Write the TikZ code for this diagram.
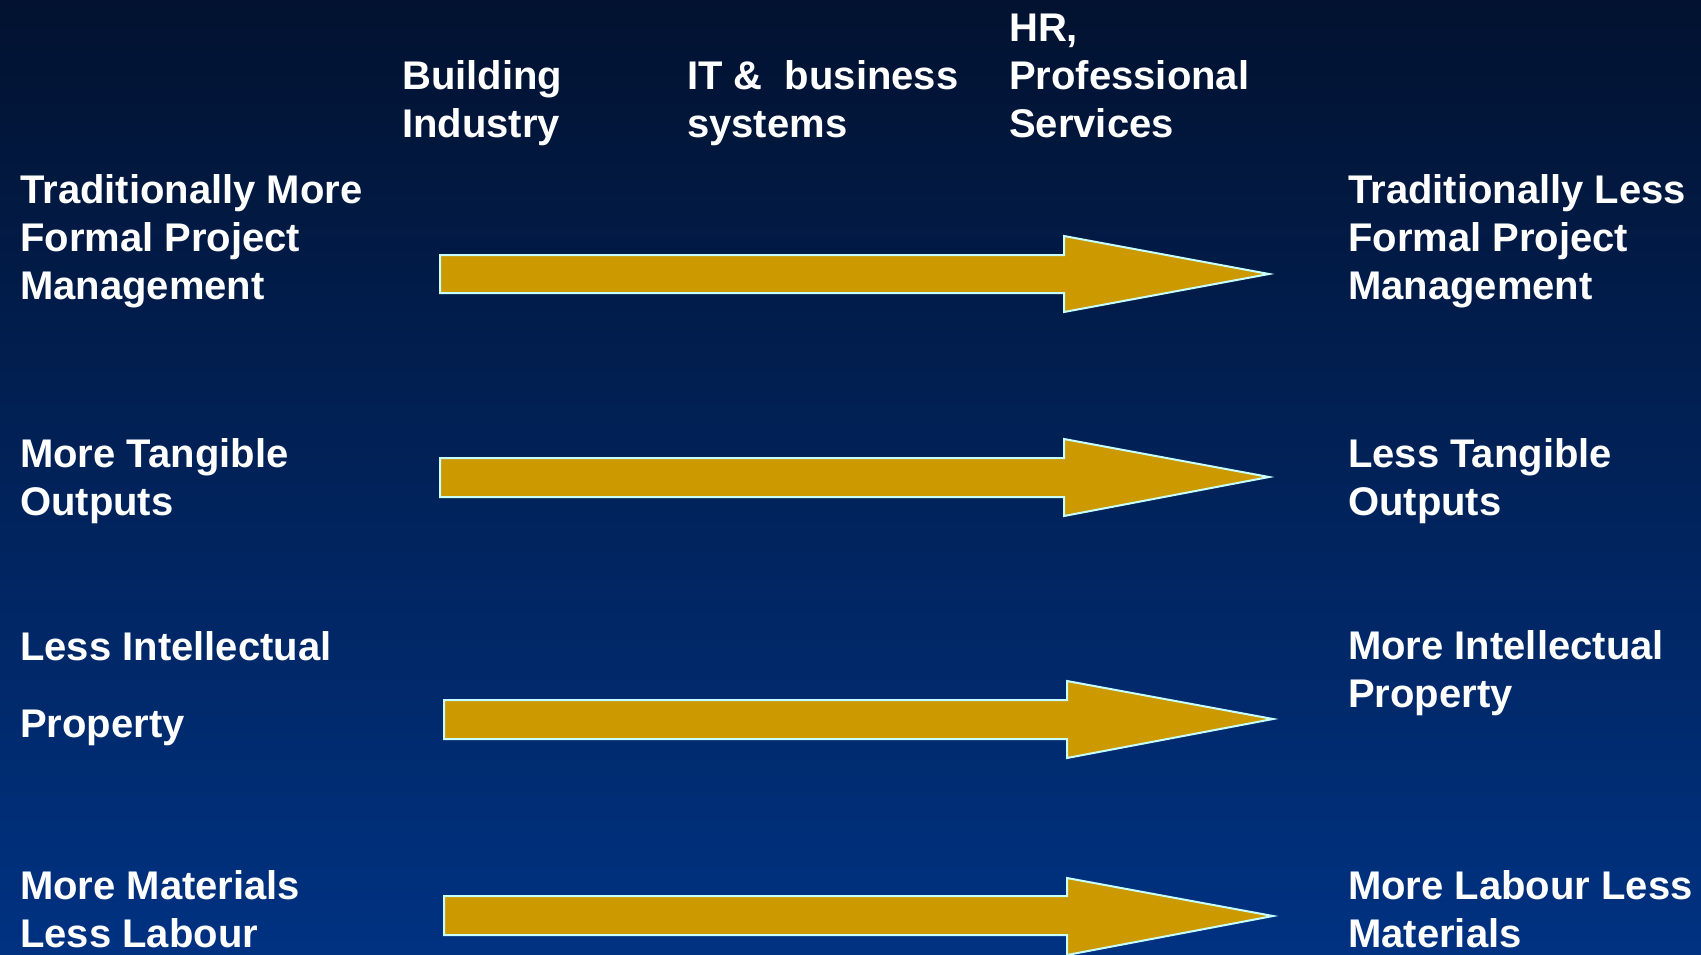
\documentclass[tikz,border=0pt]{standalone}
\usepackage{fontspec}
\setmainfont{Liberation Sans}
\begin{document}
\begin{tikzpicture}[x=1pt,y=-1pt,
  label/.style={inner sep=0pt,anchor=base west,align=left,text=white,
    font=\bfseries\fontsize{40}{48}\selectfont},
  blockarrow/.style={fill=arrowgold,draw=edgecyan,line width=2pt,line join=miter}]
\definecolor{arrowgold}{RGB}{204,153,0}
\definecolor{edgecyan}{RGB}{200,255,255}
\definecolor{navytop}{RGB}{2,18,48}
\definecolor{navybottom}{RGB}{0,50,130}
% background
\shade[top color=navytop,bottom color=navybottom] (0,0) rectangle (1701,954);
\useasboundingbox (0,0) rectangle (1701,954);

% column headings (positioned by the baseline of their last line)
\node[label] (build) at (402,137) {Building\\Industry};
\node[label] (it) at (687,137) {IT \&\ \ business\\systems};
\node[label] (hr) at (1009,137) {HR,\\Professional\\Services};

% left-hand labels
\node[label] (l1) at (20,299) {Traditionally More\\Formal Project\\Management};
\node[label] (l2) at (20,515) {More Tangible\\Outputs};
\node[label] (l3a) at (20,660) {Less Intellectual};
\node[label] (l3b) at (20,737) {Property};
\node[label] (l4) at (20,947) {More Materials\\Less Labour};

% right-hand labels
\node[label] (r1) at (1348,299) {Traditionally Less\\Formal Project\\Management};
\node[label] (r2) at (1348,515) {Less Tangible\\Outputs};
\node[label] (r3) at (1348,707) {More Intellectual\\Property};
\node[label] (r4) at (1348,947) {More Labour Less\\Materials};

% block arrows
\draw[blockarrow] (440,255) -- (1064,255) -- (1064,236) -- (1269,274)
  -- (1064,312) -- (1064,293) -- (440,293) -- cycle;
\draw[blockarrow] (440,458) -- (1064,458) -- (1064,439) -- (1269,477)
  -- (1064,516) -- (1064,497) -- (440,497) -- cycle;
\draw[blockarrow] (444,700) -- (1067,700) -- (1067,681) -- (1273,719)
  -- (1067,758) -- (1067,739) -- (444,739) -- cycle;
\draw[blockarrow] (444,896) -- (1067,896) -- (1067,878) -- (1273,916)
  -- (1067,955) -- (1067,935) -- (444,935) -- cycle;
\end{tikzpicture}
\end{document}
